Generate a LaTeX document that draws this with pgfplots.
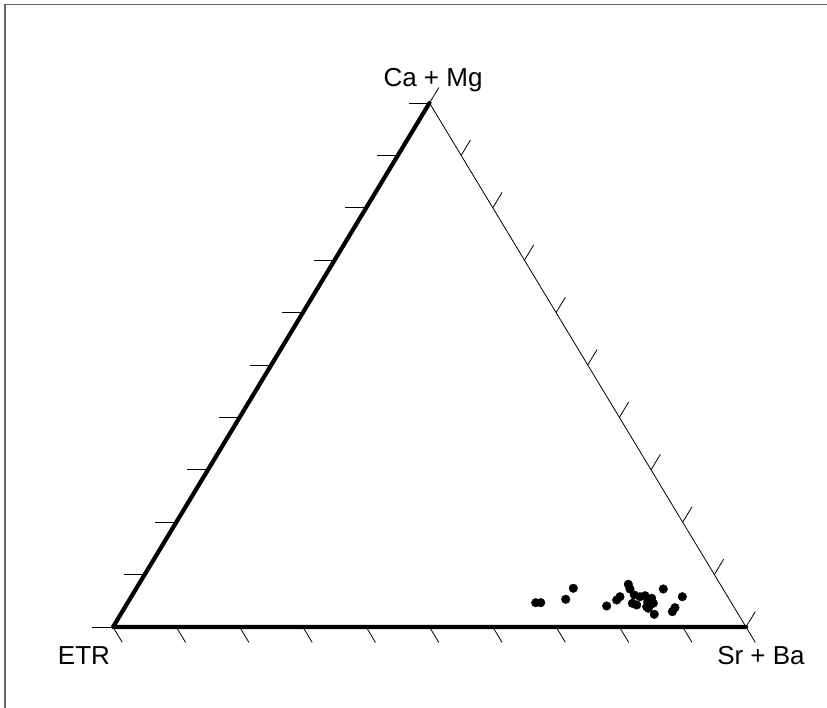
\documentclass[border=0pt]{standalone}
\usepackage{pgfplots}
\pgfplotsset{compat=1.18}
\usepackage{fontspec}
\setmainfont{Liberation Sans}

% Ternary diagram ETR -- Sr+Ba -- Ca+Mg drawn in Cartesian form:
% x = Sr+Ba + (Ca+Mg)/2, y = Ca+Mg (apex at (0.5,1)).
\pgfplotstableread{
x       y
0.6678  0.0464
0.6757  0.0464
0.7152  0.0529
0.7272  0.0739
0.7799  0.0401
0.7957  0.0515
0.8009  0.0578
0.8141  0.0815
0.8167  0.0725
0.8204  0.0452
0.8273  0.0420
0.8325  0.0578
0.8404  0.0597
0.8447  0.0483
0.8431  0.0387
0.8510  0.0548
0.8536  0.0452
0.8457  0.0357
0.8551  0.0242
0.8693  0.0725
0.8994  0.0578
0.8878  0.0368
0.8836  0.0292
0.8235  0.0611
}\samples

\begin{document}
\begin{tikzpicture}[x=1pt,y=1pt]
\useasboundingbox (-113,-81) rectangle (714,627);
% frame (left and top edges)
\draw[line width=1.5pt, black!60] (-108,-81) -- (-108,622.5) -- (714,622.5);

\begin{axis}[
  at={(0,0)}, anchor=south west,
  scale only axis, width=633pt, height=524pt,
  xmin=0, xmax=1, ymin=0, ymax=1,
  hide axis, clip=false,
]
% triangle sides
\addplot[black, line width=4.2pt, line cap=round, line join=round] coordinates {(0.5,1) (0,0) (1,0)};
\addplot[black, line width=0.8pt] coordinates {(0.5,1) (1,0)};

% ticks on the ETR -- Ca+Mg side (horizontal, pointing left)
\draw[line width=0.8pt]
  (axis cs:0,0) -- ++(-21pt,0pt)
  (axis cs:0.05,0.1) -- ++(-21pt,0pt)
  (axis cs:0.10,0.2) -- ++(-21pt,0pt)
  (axis cs:0.15,0.3) -- ++(-21pt,0pt)
  (axis cs:0.20,0.4) -- ++(-21pt,0pt)
  (axis cs:0.25,0.5) -- ++(-21pt,0pt)
  (axis cs:0.30,0.6) -- ++(-21pt,0pt)
  (axis cs:0.35,0.7) -- ++(-21pt,0pt)
  (axis cs:0.40,0.8) -- ++(-21pt,0pt)
  (axis cs:0.45,0.9) -- ++(-21pt,0pt)
  (axis cs:0.50,1.0) -- ++(-21pt,0pt);
% ticks on the Ca+Mg -- Sr+Ba side (pointing up-right)
\draw[line width=0.8pt]
  (axis cs:0.50,1.0) -- ++(9.3pt,15.4pt)
  (axis cs:0.55,0.9) -- ++(9.3pt,15.4pt)
  (axis cs:0.60,0.8) -- ++(9.3pt,15.4pt)
  (axis cs:0.65,0.7) -- ++(9.3pt,15.4pt)
  (axis cs:0.70,0.6) -- ++(9.3pt,15.4pt)
  (axis cs:0.75,0.5) -- ++(9.3pt,15.4pt)
  (axis cs:0.80,0.4) -- ++(9.3pt,15.4pt)
  (axis cs:0.85,0.3) -- ++(9.3pt,15.4pt)
  (axis cs:0.90,0.2) -- ++(9.3pt,15.4pt)
  (axis cs:0.95,0.1) -- ++(9.3pt,15.4pt)
  (axis cs:1.00,0.0) -- ++(9.3pt,15.4pt);
% ticks on the ETR -- Sr+Ba side (pointing down-right)
\draw[line width=0.8pt]
  (axis cs:0.0,0) -- ++(9.3pt,-15.4pt)
  (axis cs:0.1,0) -- ++(9.3pt,-15.4pt)
  (axis cs:0.2,0) -- ++(9.3pt,-15.4pt)
  (axis cs:0.3,0) -- ++(9.3pt,-15.4pt)
  (axis cs:0.4,0) -- ++(9.3pt,-15.4pt)
  (axis cs:0.5,0) -- ++(9.3pt,-15.4pt)
  (axis cs:0.6,0) -- ++(9.3pt,-15.4pt)
  (axis cs:0.7,0) -- ++(9.3pt,-15.4pt)
  (axis cs:0.8,0) -- ++(9.3pt,-15.4pt)
  (axis cs:0.9,0) -- ++(9.3pt,-15.4pt)
  (axis cs:1.0,0) -- ++(9.3pt,-15.4pt);

% samples
\addplot[only marks, mark=*, mark size=4.3pt, black] table[x=x, y=y] {\samples};
\end{axis}

% vertex labels
\begin{scope}[every node/.style={font=\fontsize{26}{30}\selectfont, inner sep=0pt}]
\node[anchor=base] at (320,540) {Ca + Mg};
\node[anchor=base] at (-29,-38) {ETR};
\node[anchor=base] at (648,-38) {Sr + Ba};
\end{scope}
\end{tikzpicture}
\end{document}
